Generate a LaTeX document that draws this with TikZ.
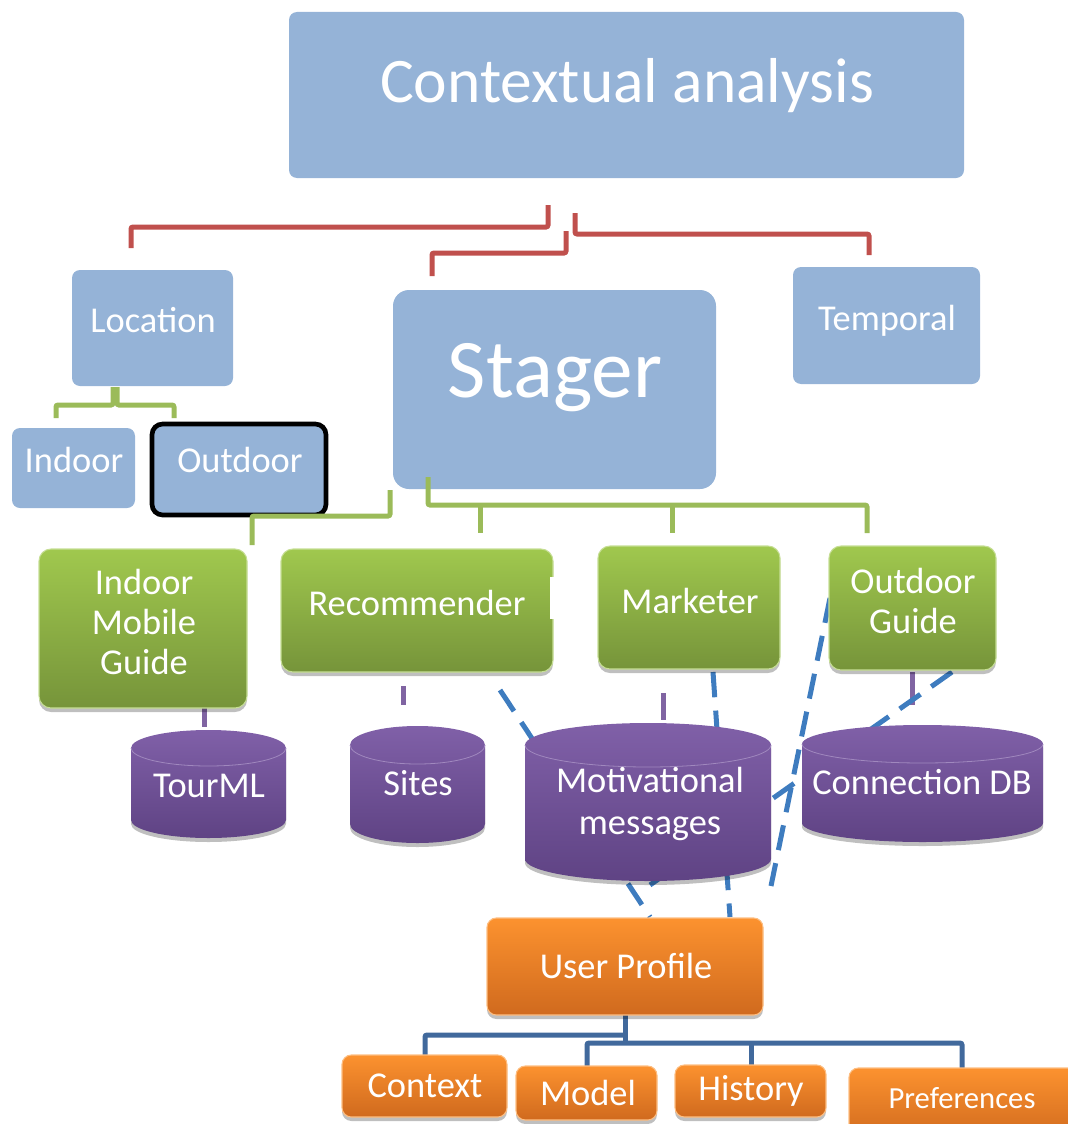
\documentclass[tikz,border=0pt]{standalone}
\usepackage{fontspec}
\setmainfont{Carlito}
\usetikzlibrary{fit,shadows}

\definecolor{boxblue}{HTML}{95B3D7}
\definecolor{redln}{HTML}{C0504D}
\definecolor{grnln}{HTML}{9BBB59}
\definecolor{purln}{HTML}{8064A2}
\definecolor{dashblue}{HTML}{3E7CBF}
\definecolor{treeblue}{HTML}{41699C}
\definecolor{grTop}{HTML}{A0C84E}
\definecolor{grBot}{HTML}{76943A}
\definecolor{puTop}{HTML}{8060A8}
\definecolor{puBot}{HTML}{5F4384}
\definecolor{orTop}{HTML}{FC922F}
\definecolor{orBot}{HTML}{D06A1E}

\tikzset{
  softshadow/.style={drop shadow={shadow xshift=0pt, shadow yshift=-3pt, opacity=0.25, fill=black}},
  bluebox/.style={fill=boxblue, draw=none, inner sep=0pt, rounded corners=6pt},
  greenbox/.style={top color=grTop, bottom color=grBot, draw=grTop!60!white, line width=0.8pt,
                   inner sep=0pt, rounded corners=9pt, softshadow},
  orangebox/.style={top color=orTop, bottom color=orBot, draw=orTop!60!white, line width=0.8pt,
                    inner sep=0pt, rounded corners=7pt, softshadow},
  dbbody/.style={top color=puTop, bottom color=puBot, softshadow},
  dbrim/.style={draw=puTop!75!white, line width=0.6pt},
  lbl/.style={text=white, inner sep=0pt, anchor=base, align=center,
              font=\fontsize{27.3}{30}\selectfont},
  redlink/.style={draw=redln, line width=3.75pt, rounded corners=1.5pt},
  greenlink/.style={draw=grnln, line width=3.75pt, rounded corners=1.5pt},
  purplelink/.style={draw=purln, line width=3.75pt},
  treelink/.style={draw=treeblue, line width=3.75pt, rounded corners=1.5pt},
  dashlink/.style={draw=dashblue, line width=3.75pt, dash pattern=on 19pt off 10pt},
}

% database cylinder: name, x1, y1, x2, y2, ellipse half-height
\newcommand\dbcylinder[6]{%
  \path[dbbody] (#2,#3+#6)
     arc[start angle=180, end angle=360, x radius={(#4-#2)/2}, y radius=#6]
     -- (#4,#5-#6)
     arc[start angle=0, end angle=180, x radius={(#4-#2)/2}, y radius=#6]
     -- cycle;
  \draw[dbrim] (#2,#3+#6)
     arc[start angle=180, end angle=0, x radius={(#4-#2)/2}, y radius=#6];
  \coordinate (#1) at ({(#2+#4)/2},{(#3+#5)/2});
}

\begin{document}
\begin{tikzpicture}[x=0.75pt, y=-0.75pt]
\useasboundingbox (0,0) rectangle (1067,1124);

% ---- context layer ----
\node[bluebox, fit={(289,12) (964,178)}] (ctx) {};
\node[lbl, font=\fontsize{47.6}{50}\selectfont] (ctxT) at (627,103) {Contextual analysis};

\node[bluebox, fit={(72,270) (233,386)}] (loc) {};
\node[lbl] (locT) at (153,332) {Location};

\node[bluebox, fit={(793,267) (980,384)}] (tmp) {};
\node[lbl] (tmpT) at (887,330) {Temporal};

\node[bluebox, rounded corners=12pt, fit={(393,290) (716,489)}] (stg) {};
\node[lbl, font=\fontsize{62.5}{66}\selectfont] (stgT) at (555,397) {Stager};

\node[bluebox, fit={(12,428) (135,508)}] (ind) {};
\node[lbl] (indT) at (74,472) {Indoor};

\node[bluebox, draw=black, line width=3.5pt, rounded corners=8pt, fit={(152,424) (326,515)}] (outd) {};
\node[lbl] (outdT) at (240,472) {Outdoor};

% ---- tree connectors ----
\draw[redlink] (548,205) -- (548,227) -- (131,227) -- (131,248);
\draw[redlink] (566,231) -- (566,253) -- (432,253) -- (432,276);
\draw[redlink] (575,213) -- (575,234) -- (869,234) -- (869,255);

\draw[greenlink] (113,387) -- (113,405) -- (56,405) -- (56,418);
\draw[greenlink] (117,387) -- (117,405) -- (174,405) -- (174,418);
\draw[greenlink] (390,490) -- (390,516) -- (252,516) -- (252,545);
\draw[greenlink] (428,477) -- (428,505) -- (867,505) -- (867,533);
\draw[greenlink] (480,505) -- (480,533);
\draw[greenlink] (672,505) -- (672,533);

\draw[purplelink] (204,708) -- (204,727);
\draw[purplelink] (403,686) -- (403,705);
\draw[purplelink] (663,693) -- (663,720);
\draw[purplelink] (912,672) -- (912,705);

\draw[treelink] (625,1015) -- (625,1043);
\draw[treelink] (625,1035) -- (425,1035) -- (425,1055);
\draw[treelink] (587,1066) -- (587,1043) -- (962,1043) -- (962,1068);
\draw[treelink] (751,1043) -- (751,1066);

% ---- dashed data links ----
\coordinate (d1a) at (500,690);  \coordinate (d1b) at (650,917);
\coordinate (d2a) at (713,672);  \coordinate (d2b) at (730,917);
\coordinate (d3a) at (830,598);  \coordinate (d3b) at (771,886);
\coordinate (d4a) at (952,672);  \coordinate (d4b) at (650,885);
\draw[dashlink] (d1a) -- (d1b);
\draw[dashlink] (d2a) -- (d2b);
\draw[dashlink] (d3a) -- (d3b);
\draw[dashlink] (d4a) -- (d4b);

% ---- components ----
\node[greenbox, fit={(39,549) (247,708)}] (imgd) {};
\node[lbl] (imgdT) at (144,674) {Indoor\\Mobile\\Guide};

\node[greenbox, fit={(281,549) (553,672)}] (rec) {};
\node[lbl] (recT) at (417,615) {Recommender};
\fill[white] (550,577) rectangle (557,619);

\node[greenbox, fit={(598,546) (780,669)}] (mkt) {};
\node[lbl] (mktT) at (690,613) {Marketer};

\node[greenbox, fit={(829,546) (996,670)}] (ogd) {};
\node[lbl] (ogdT) at (913,633) {Outdoor\\Guide};

% ---- data stores ----
\dbcylinder{tourml}{131}{730}{286}{838}{18}
\node[lbl] (tourmlT) at (209,797) {TourML};

\dbcylinder{sites}{350}{726}{485}{843}{19}
\node[lbl] (sitesT) at (418,795) {Sites};

\dbcylinder{motiv}{525}{723}{771}{881}{22}
\node[lbl, font=\fontsize{27.3}{30.8}\selectfont] (motivT) at (650,834) {Motivational\\messages};

\dbcylinder{conn}{802}{725}{1043}{842}{19}
\node[lbl] (connT) at (922,794) {Connection DB};

% ---- user profile ----
\node[orangebox, fit={(487,918) (763,1015)}] (usr) {};
\node[lbl] (usrT) at (626,978) {User Profile};

\node[orangebox, fit={(342,1055) (507,1117)}] (cx) {};
\node[lbl] (cxT) at (425,1097) {Context};

\node[orangebox, fit={(516,1066) (657,1120)}] (mdl) {};
\node[lbl] (mdlT) at (588,1105) {Model};

\node[orangebox, fit={(675,1065) (826,1117)}] (hst) {};
\node[lbl] (hstT) at (751,1100) {History};

\node[orangebox, fit={(849,1068) (1080,1140)}] (prf) {};
\node[lbl, font=\fontsize{23}{26}\selectfont] (prfT) at (962,1108) {Preferences};
\end{tikzpicture}
\end{document}
